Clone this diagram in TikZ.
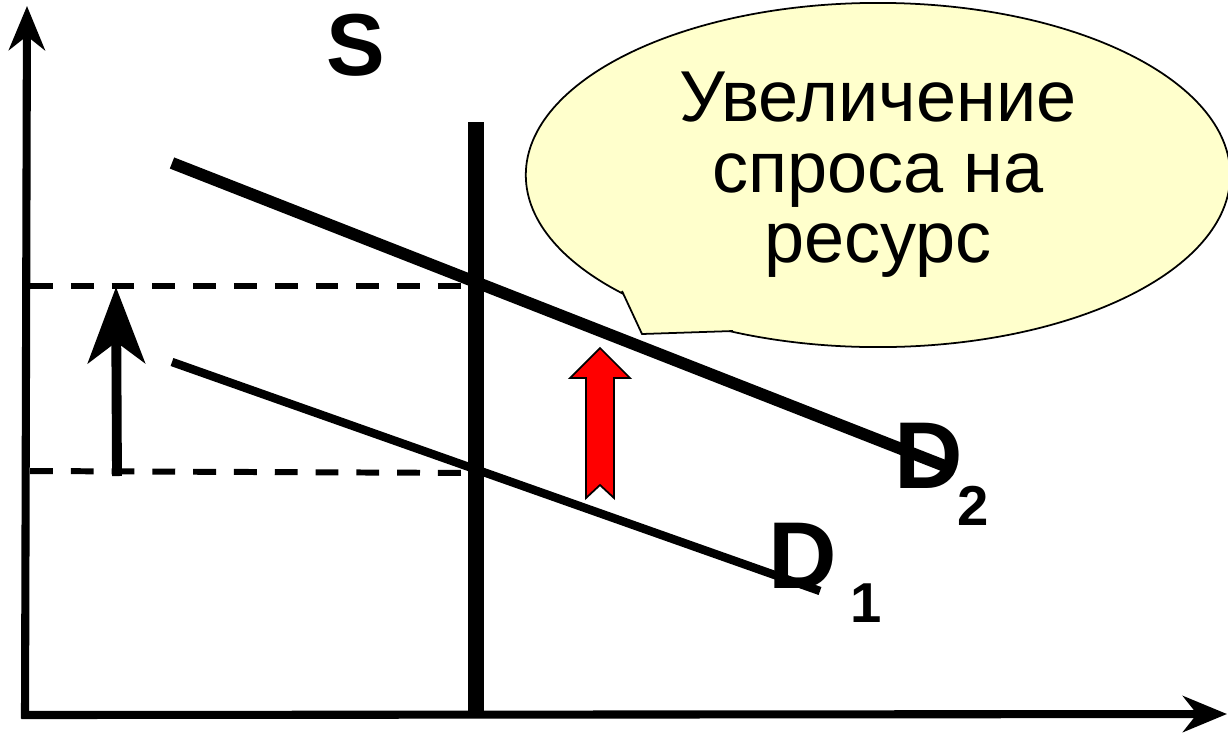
\documentclass[tikz,border=0pt]{standalone}
\usepackage{fontspec}
\setmainfont{Liberation Sans}
\usetikzlibrary{arrows.meta,shapes.geometric}
\definecolor{noteyellow}{RGB}{255,255,204}
\definecolor{shiftred}{RGB}{255,0,0}

\begin{document}
\begin{tikzpicture}[x=0.01cm,y=-0.01cm,
  axis/.style={line width=2.3pt,-{Stealth[length=4.4mm,width=3.6mm,inset=1.4mm]}},
  level/.style={dash pattern=on 6.5pt off 5.1pt,line width=1.7pt},
  lift/.style={line width=2.8pt,-{Stealth[length=7.6mm,width=5.7mm,inset=2.1mm]}},
  note/.style={ellipse,draw,line width=0.5pt,fill=noteyellow,minimum width=7.04cm,minimum height=3.44cm,inner sep=0pt,align=center,font=\fontsize{20.5}{20}\selectfont},
  lbl/.style={inner sep=0pt,font=\fontsize{27}{27}\selectfont\bfseries},
  idx/.style={inner sep=0pt,font=\fontsize{16}{16}\selectfont\bfseries}
]
\useasboundingbox (0,0) rectangle (1228,736);
% axes
\coordinate (o) at (25,715);
\coordinate (ytop) at (27,6);
\coordinate (xend) at (1227,714);
\draw[axis] ([yshift=-1pt]o) -- (ytop);
\draw[axis] ([xshift=-1pt]o) -- (xend);
% supply
\coordinate (s0) at (476,714);
\coordinate (s1) at (476,122);
\draw[line width=4.5pt] (s0) -- (s1);
\node[inner sep=0pt,font=\fontsize{25}{25}\selectfont\bfseries] (slbl) at (356,45) {S};
% price levels
\coordinate (p2a) at (30,286);
\coordinate (p2b) at (478,286);
\coordinate (p1a) at (30,471);
\coordinate (p1b) at (478,473);
\draw[level] (p2a) -- (p2b);
\draw[level] (p1a) -- (p1b);
\coordinate (pfrom) at (117,476);
\coordinate (pto) at (116,287);
\draw[lift] (pfrom) -- (pto);
% demand curves
\coordinate (d2a) at (172,163);
\coordinate (d2b) at (955,470);
\coordinate (d1a) at (172,362);
\coordinate (d1b) at (820,591);
\draw[line width=3.4pt] (d2a) -- (d2b);
\draw[line width=2.4pt] (d1a) -- (d1b);
\node[lbl] (d2) at (929,456) {D};
\node[idx] (d2i) at (973,506) {2};
\node[lbl] (d1) at (803,556) {D};
\node[idx] (d1i) at (866,603) {1};
% shift
\draw[fill=shiftred,line width=0.5pt] (600,348) -- (630,378) -- (614,378) -- (614,498)
  -- (600,485) -- (586,498) -- (586,378) -- (570,378) -- cycle;
% callout
\node[note] (txt) at (878,175) {Увеличение\\спроса на\\ресурс};
\coordinate (tl) at (622,291);
\coordinate (tip) at (642,334);
\coordinate (tr) at (733,331);
\fill[noteyellow] (tl) -- (tip) -- (tr) -- cycle;
\draw[line width=0.5pt] (tl) -- (tip) -- (tr);
\end{tikzpicture}
\end{document}
